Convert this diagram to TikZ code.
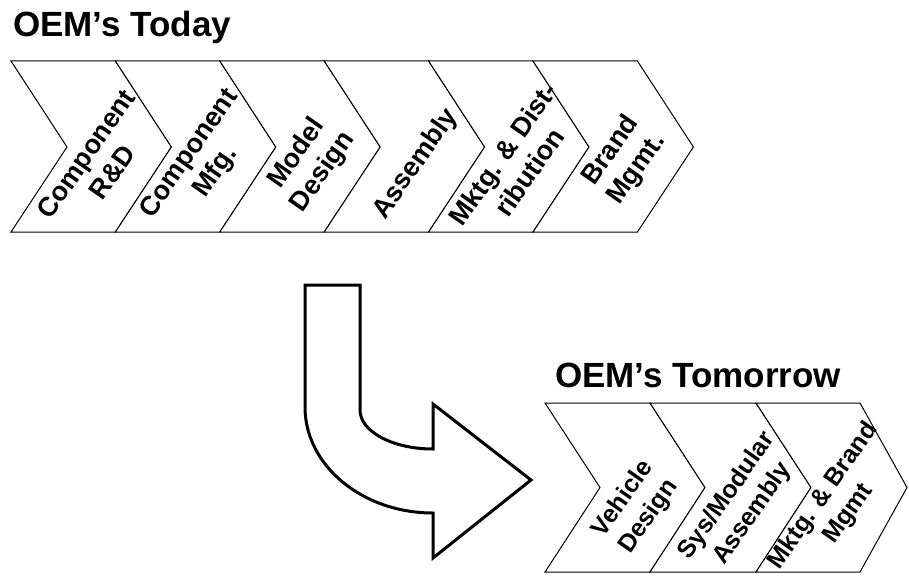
\documentclass[tikz,border=0pt]{standalone}
\usepackage{fontspec}
\setmainfont{Liberation Sans}
\begin{document}
\begin{tikzpicture}[x=1pt,y=-1pt,
  chevline/.style={draw=black,line width=1pt,fill=white,line join=miter},
  steplabel/.style={rotate=55,align=center,inner sep=0pt,
    font=\fontsize{27}{32}\selectfont\bfseries},
  smalllabel/.style={steplabel,font=\fontsize{25}{31}\selectfont\bfseries},
  heading/.style={anchor=base west,inner sep=0pt,
    font=\fontsize{35}{40}\selectfont\bfseries},
  bigarrow/.style={draw=black,line width=3pt,fill=white,line join=miter}]
\useasboundingbox (0,0) rectangle (909,575);

% ---- present-day value chain ----
\node[heading] (titleToday) at (13,37) {OEM’s Today};
\foreach \i in {0,...,5}{
  \pgfmathsetmacro{\xl}{11+104.4*\i}
  \pgfmathsetmacro{\xr}{\xl+104.4}
  \draw[chevline] (\xl,61) -- (\xr,61) -- (\xr+56,147) -- (\xr,232)
    -- (\xl,232) -- (\xl+56,147) -- cycle;
}
\node[steplabel] (t1) at (99,163)  {Component\\R\&D};
\node[steplabel] (t2) at (203,163) {Component\\Mfg.};
\node[steplabel] (t3) at (310,163) {Model\\Design};
\node[steplabel] (t4) at (416,164) {Assembly};
\node[steplabel] (t5) at (516,163) {Mktg. \& Dist-\\ribution};
\node[steplabel] (t6) at (624,160) {Brand\\Mgmt.};

% ---- bent transition arrow ----
\draw[bigarrow] (305,285) -- (360,285) -- (360,410)
  .. controls (360,431.5) and (392.7,449) .. (433,449)
  -- (433,404) -- (531,480) -- (433,558) -- (433,513)
  .. controls (362.3,513) and (305,465.5) .. (305,407) -- cycle;

% ---- future value chain ----
\node[heading] (titleTomorrow) at (555,387) {OEM’s Tomorrow};
\draw[chevline] (545,403) -- (650,403) -- (705,487.5) -- (650,572)
  -- (545,572) -- (600,487.5) -- cycle;
\draw[chevline] (650,403) -- (756,403) -- (811,487.5) -- (756,572)
  -- (650,572) -- (705,487.5) -- cycle;
\draw[chevline] (756,403) -- (860,403) -- (907,487.5) -- (860,572)
  -- (756,572) -- (811,487.5) -- cycle;
\node[smalllabel] (b1) at (636,508) {Vehicle\\Design};
\node[smalllabel] (b2) at (740,505) {Sys/Modular\\Assembly};
\node[smalllabel] (b3) at (836,505) {Mktg. \& Brand\\Mgmt};
\end{tikzpicture}
\end{document}
